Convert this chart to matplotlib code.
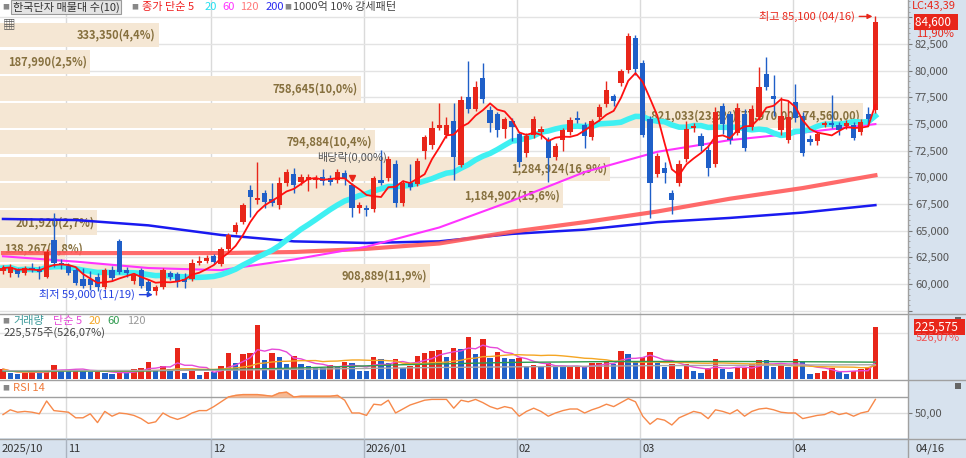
import numpy as np
import pandas as pd
import matplotlib.pyplot as plt
from matplotlib.lines import Line2D
from matplotlib.patches import Rectangle
from matplotlib.ticker import FuncFormatter, MultipleLocator

plt.rcParams['font.family'] = ['Noto Sans CJK KR', 'DejaVu Sans']

W, H = 966, 458

# daily candles, 2025/10 .. 2026/04/16
opens = [61200, 61000, 61300, 61000, 61500, 61400, 60700, 64100, 62000, 61700,
         61300, 60500, 60500, 60700, 59700, 61300, 64000, 61300, 60300, 61300,
         60200, 59300, 59700, 61000, 60900, 60500, 60500, 62000, 62200, 62600,
         61900, 63300, 64900, 65800, 68800, 67900, 68500, 68000, 67400, 69500,
         70300, 69600, 69800, 69800, 70000, 69900, 69750, 70400, 69300, 67100,
         67100, 67000, 69800, 69900, 71300, 67600, 69500, 69400, 72500, 73000,
         74600, 74000, 75300, 71200, 77500, 76400, 79300, 76300, 75900, 74500,
         75300, 74100, 72300, 74000, 74300, 73500, 71900, 73500, 74300, 75600,
         74900, 73800, 75700, 76900, 77600, 78900, 80100, 83100, 80700, 75500,
         70300, 70900, 68500, 69500, 71700, 74600, 73900, 72600, 71250, 76700,
         75900, 74200, 75900, 74700, 75700, 79700, 77600, 74400, 73500, 77100,
         75800, 73600, 73400, 74900, 75100, 74900, 74800, 74900, 74300, 75900,
         76300]
highs = [61800, 61900, 61500, 61700, 62000, 61700, 63300, 66700, 62300, 62000,
         61600, 61500, 61200, 61000, 61500, 61700, 64200, 61600, 61000, 61500,
         60500, 59900, 61500, 61200, 61100, 61000, 62300, 62600, 62700, 62800,
         63500, 64800, 65800, 67600, 69300, 71400, 68800, 69500, 70000, 70800,
         70900, 70300, 70300, 70200, 70800, 70200, 70800, 70700, 69500, 67700,
         67400, 70100, 72600, 72000, 71600, 69800, 71300, 71800, 74000, 75300,
         77000, 75700, 77000, 77600, 80900, 79000, 80700, 76700, 76100, 75700,
         75600, 74300, 74200, 75800, 74800, 73800, 73200, 74600, 75700, 76200,
         75200, 75500, 76900, 79000, 77800, 80200, 83500, 83400, 81000, 75800,
         72300, 71400, 68800, 71600, 75300, 75100, 74200, 73000, 76600, 77000,
         76200, 77000, 76400, 76800, 80400, 81300, 79600, 77500, 77200, 78800,
         76100, 74000, 74300, 75300, 77700, 75200, 75400, 75200, 75500, 76600,
         85100]
lows = [60900, 60700, 60700, 60800, 61100, 60500, 60600, 61600, 61400, 60800,
        59900, 59600, 59400, 59300, 59500, 60300, 60900, 60700, 60000, 59600,
        59100, 59000, 59500, 60400, 59700, 59600, 60300, 61800, 62000, 61900,
        61700, 63100, 64700, 65600, 66300, 67500, 67100, 67300, 67000, 69200,
        68500, 69300, 68700, 69000, 69300, 69300, 69500, 69300, 66300, 66700,
        66400, 66800, 69300, 69700, 67200, 67300, 68800, 69200, 71700, 72700,
        74400, 73700, 69800, 71000, 76000, 76200, 77000, 74300, 73800, 73700,
        73400, 71000, 71900, 73700, 73600, 69600, 71600, 72500, 74000, 75100,
        72800, 73500, 75300, 76600, 76700, 78600, 79800, 79600, 73800, 66200,
        70000, 69500, 66600, 69200, 71400, 74300, 72500, 70100, 71000, 74100,
        73100, 74000, 72500, 74400, 75400, 78200, 75800, 74000, 73200, 75200,
        72000, 73000, 73000, 74700, 74600, 74000, 74500, 73500, 74000, 74800,
        76000]
closes = [61500, 61600, 60900, 61500, 61300, 61100, 63000, 62000, 61800, 61000,
          60100, 59800, 59900, 59700, 61300, 60600, 61100, 61000, 60800, 59800,
          59300, 59700, 61300, 60700, 60200, 60200, 62000, 62200, 62400, 62100,
          63300, 64600, 65500, 67400, 68200, 68100, 67700, 67600, 69500, 70500,
          69300, 70000, 70000, 69900, 69700, 69600, 70500, 69850, 67100, 67400,
          66900, 69900, 69500, 71700, 67600, 69500, 69100, 71500, 73800, 74600,
          74900, 74900, 71900, 77300, 76400, 78500, 77400, 75100, 74400, 75500,
          74700, 71400, 73900, 75500, 74500, 71800, 72900, 74400, 75400, 75400,
          73900, 75300, 76600, 78200, 77200, 80000, 83300, 80200, 74000, 69500,
          72000, 70400, 67900, 71300, 74500, 74800, 72900, 70900, 76100, 75000,
          73500, 76500, 72800, 76400, 78500, 78500, 77400, 75800, 75700, 75600,
          72300, 73300, 74100, 75100, 74900, 74400, 75100, 73700, 75200, 75500,
          84600]

volumes = [43000, 27500, 21700, 27500, 34700, 27500, 34700, 59300, 39000, 39000,
           39000, 39000, 31800, 31800, 27500, 21700, 27500, 27500, 44800, 49100,
           75200, 39000, 56400, 42000, 135900, 24600, 39000, 17400, 31800, 31800,
           56400, 114200, 67900, 107000, 114200, 232800, 82400, 111300, 96900, 63600,
           101200, 63600, 57800, 50600, 46300, 59300, 50600, 72300, 67900, 34700,
           34700, 94000, 85300, 67900, 85300, 46300, 57800, 101200, 114200, 121500,
           125800, 94000, 135900, 131600, 183600, 109900, 173500, 89600, 117100, 89600,
           85300, 92600, 56400, 59300, 50600, 70900, 50600, 53500, 53500, 53500,
           50600, 70900, 70900, 79500, 65100, 120000, 109900, 73700, 96900, 117100,
           70900, 50600, 65100, 43400, 63600, 36200, 27500, 46300, 85300, 43400,
           31800, 49100, 49100, 63600, 82400, 82400, 50600, 59300, 50600, 85300,
           75200, 20200, 24600, 34700, 49100, 30400, 21700, 34700, 43400, 49100,
           225575]
vol_dir = ("RBBRRBRRBB" "RBBRBBRBRR" "RBRBRBRBRB" "RRBRRRBRBB" "RBBBBRBRBB"
           "BRBBRBRRRR" "RBRBRBRBRB" "BRBRBRBBRR" "BRRRBRBBRR" "BBRBRBBRRB"
           "BRRRRBBRBR" "BBRRRBBRRR" "R")

rsi14 = [48, 54, 51, 52, 51, 49, 65, 53, 52, 51,
         44, 44, 49, 38, 52, 46, 50, 49, 47, 43,
         37, 39, 50, 45, 42, 45, 50, 53, 53, 58,
         64, 70, 72, 73, 73, 73, 72, 71, 75, 76,
         70, 71, 71, 71, 71, 71, 72, 66, 50, 50,
         47, 61, 60, 66, 50, 55, 60, 63, 66, 67,
         67, 67, 56, 66, 64, 67, 63, 58, 55, 58,
         56, 46, 52, 56, 52, 46, 50, 53, 55, 55,
         50, 54, 57, 61, 58, 63, 68, 64, 46, 36,
         43, 41, 35, 44, 48, 52, 50, 43, 54, 52,
         49, 54, 46, 52, 55, 56, 54, 51, 50, 50,
         43, 45, 47, 48, 52, 48, 50, 46, 50, 52,
         67]

# long moving averages (need history before the window) read at sample bars
ma_idx = [0, 10, 20, 30, 40, 50, 60, 70, 80, 90, 100, 110, 120]
ma60 = [62600, 62100, 61500, 61300, 62300, 63500, 65300, 67800, 70500, 72400, 73500, 74200, 75000]
ma120 = [62900, 62900, 62900, 62900, 63000, 63300, 63800, 64900, 65800, 66800, 68000, 69000, 70200]
ma200 = [66100, 66000, 65500, 64600, 64000, 63850, 64000, 64700, 65100, 65800, 66200, 66700, 67400]

vma60_idx = [0, 20, 40, 55, 70, 85, 100, 110, 120]
vma60 = [34000, 35000, 47000, 62000, 72000, 76000, 76000, 75000, 73000]
vma120_idx = [0, 30, 60, 90, 120]
vma120 = [36000, 38000, 50000, 58000, 62000]

month_starts = [9, 29, 50, 71, 88, 109]
month_labels = ['11', '12', '2026/01', '02', '03', '04']

# 매물대 (10 price bands)
band_low = 59500
band_step = 2510
band_vol = [908889, 138267, 201920, 1184902, 1284924, 794884, 1821033, 758645, 187990, 333350]
band_pct = [11.9, 1.8, 2.7, 15.6, 16.9, 10.4, 23.9, 10.0, 2.5, 4.4]

hi_idx, hi_val = 120, 85100
lo_idx, lo_val = 21, 59000
div_idx, div_mark = 48, 69950

RED = '#e8261a'
BLUE = '#1f5fc8'

n = len(closes)
x = np.arange(n)
o = np.array(opens); c = np.array(closes)
hi = np.array(highs); lo = np.array(lows)
up = c >= o
ma5 = pd.Series(closes).rolling(5, min_periods=1).mean()
ma20 = pd.Series(closes).rolling(20, min_periods=1).mean()
v = np.array(volumes)
vma5 = pd.Series(volumes).rolling(5, min_periods=1).mean()
vma20 = pd.Series(volumes).rolling(20, min_periods=1).mean()
rsi = np.array(rsi14, dtype=float)

px_bar = 7.27
x0px = 3
xlim = (-x0px / px_bar, (908 - x0px) / px_bar)

fig = plt.figure(figsize=(W / 100, H / 100), dpi=100, facecolor='#d7e2ee')


def box(y0, y1):
    return [0, 1 - y1 / H, 908 / W, (y1 - y0) / H]


ax = fig.add_axes(box(0, 313))
vax = fig.add_axes(box(313, 380))
rax = fig.add_axes(box(380, 438))
for a in (ax, vax, rax):
    a.set_xlim(*xlim)
    a.set_xticks([])
    for s in a.spines.values():
        s.set_visible(False)
    for m in month_starts:
        a.axvline(m - 0.35, color='#dadada', lw=1, zorder=0)

# ---- price panel
ax.set_ylim(57280, 86640)
ax.yaxis.tick_right()
ax.set_yticks(np.arange(57500, 85001, 2500))
ax.yaxis.set_minor_locator(MultipleLocator(500))
ax.yaxis.set_major_formatter(FuncFormatter(lambda val, p: f'{val:,.0f}' if 60000 <= val <= 82500 else ''))
ax.tick_params(axis='y', which='major', length=3, color='#777777', labelsize=8, labelcolor='#555555', pad=2)
ax.tick_params(axis='y', which='minor', length=1.5, color='#999999')
ax.grid(axis='y', color='#e3e3e3', lw=1, zorder=0)
ax.set_axisbelow(True)

wpp = 36.1 / px_bar
for k in range(10):
    b0 = band_low + k * band_step
    w = band_pct[k] * wpp
    ax.barh(b0 + 0.04 * band_step, w, height=0.92 * band_step, left=xlim[0], align='edge',
            color='#f5e7d4', zorder=1)
    lab = f'{band_vol[k]:,}({band_pct[k]:.1f}%)'.replace('.', ',')
    if band_pct[k] == max(band_pct):
        lab += f'({b0 + band_step:,.2f} - {b0:,.2f})'.replace('.', ',')
    if band_pct[k] < 2.2:
        # label wider than its band: starts at the left edge
        tx, ha = xlim[0] + 0.5, 'left'
    else:
        tx, ha = xlim[0] + w - 0.4, 'right'
    ax.text(tx, b0 + band_step / 2, lab, ha=ha, va='center',
            fontsize=8, color='#86703e', fontweight='bold', zorder=1.5)

ax.plot(ma_idx, ma200, color='#1a1af0', lw=1.8, zorder=3)
ax.plot(ma_idx, ma120, color='#ff5a5a', lw=3, alpha=0.9, zorder=3)
ax.plot(ma_idx, ma60, color='#ff33ff', lw=1.5, zorder=3)
ax.plot(x, ma20, color='#3ff0f2', lw=4, zorder=3)

cols = np.where(up, RED, BLUE)
ax.vlines(x, lo, hi, colors=cols, lw=1, zorder=4)
body = np.maximum(np.abs(c - o), 90)
ax.bar(x, body, bottom=np.minimum(o, c), width=0.72, color=cols, zorder=4)
ax.plot(x, ma5, color='#ff1010', lw=1.3, zorder=5)

ax.annotate('최고 85,100 (04/16)', xy=(hi_idx - 0.4, hi_val), xytext=(hi_idx - 2.8, hi_val),
            ha='right', va='center', fontsize=8, color=RED,
            arrowprops=dict(arrowstyle='-|>', color=RED, lw=1, mutation_scale=7, shrinkA=1, shrinkB=0))
ax.annotate('최저 59,000 (11/19)', xy=(lo_idx - 0.4, lo_val), xytext=(lo_idx - 2.8, lo_val),
            ha='right', va='center', fontsize=8, color='#2440e0',
            arrowprops=dict(arrowstyle='-|>', color='#2440e0', lw=1, mutation_scale=7, shrinkA=1, shrinkB=0))
ax.plot(div_idx, div_mark, marker='v', color=RED, ms=5, zorder=6)
ax.text(div_idx, 71900, '배당락(0,00%)', ha='center', va='center', fontsize=8, color='#555555', zorder=6)

# ---- volume panel
vax.set_ylim(-4338, 286300)
vax.set_yticks([])
vax.axhline(200000, color='#e3e3e3', lw=1, zorder=0)
vcols = [RED if d == 'R' else BLUE for d in vol_dir]
vax.bar(x, v, width=0.75, color=vcols, zorder=2)
vax.plot(x, vma5, color='#e64ad8', lw=1, zorder=3)
vax.plot(x, vma20, color='#f5a623', lw=1, zorder=3)
vax.plot(vma60_idx, vma60, color='#2e9a4e', lw=1, zorder=3)
vax.plot(vma120_idx, vma120, color='#a8a8a8', lw=1, zorder=3)

# ---- RSI panel
rax.set_ylim(18.75, 91.25)
rax.yaxis.tick_right()
rax.set_yticks([50])
rax.set_yticklabels(['50,00'])
rax.tick_params(axis='y', length=3, color='#777777', labelsize=8, labelcolor='#555555', pad=2)
rax.axhline(70, color='#a0a0a0', lw=1, zorder=1)
rax.axhline(50, color='#dddddd', lw=1, zorder=0)
rax.fill_between(x, 70, rsi, where=rsi > 70, interpolate=True, color='#f6b993', zorder=2)
rax.plot(x, rsi, color='#f7894a', lw=1, zorder=3)


# ---- frame lines and labels in pixel coordinates
def fline(xs, ys, color='#a0a0a0', lw=1):
    fig.add_artist(Line2D([p / W for p in xs], [1 - p / H for p in ys], color=color, lw=lw))


def ftext(px, py, s, **kw):
    kw.setdefault('fontsize', 8)
    kw.setdefault('va', 'center')
    fig.text(px / W, 1 - py / H, s, **kw)


for yy in (313.5, 380, 438.5):
    fline([0, W], [yy, yy])
fline([908, 908], [0, H])
for m, lab in zip(month_starts, month_labels):
    mx = x0px + (m - 0.35) * px_bar
    fline([mx, mx], [439, H], color='#aab3bf')
    ftext(mx + 2, 449, lab, color='#333333')
ftext(2, 449, '2025/10', color='#333333')
ftext(915, 449, '04/16', color='#333333')

# legend row
ftext(2, 7, '■', fontsize=5, color='#888888')
ftext(13, 7, '한국단자 매물대 수(10)', color='#333333',
      bbox=dict(boxstyle='square,pad=0.15', fc='#e4e4e4', ec='#9a9a9a', lw=0.8))
ftext(131, 7, '■', fontsize=5, color='#888888')
ftext(142, 7, '종가 단순 5', color='#f02020')
ftext(205, 7, '20', color='#22e0f0')
ftext(222, 7, '60', color='#ff33ff')
ftext(240, 7, '120', color='#ff7a7a')
ftext(266, 7, '200', color='#2a2af0')
ftext(284, 7, '■', fontsize=5, color='#888888')
ftext(293, 7, '1000억 10% 강세패턴', color='#444444')
ftext(3, 25, '▦', fontsize=9, color='#555555')

ftext(2, 321, '■', fontsize=5, color='#888888')
ftext(13, 321, '거래량', color='#3c9a9a')
ftext(53, 321, '단순 5', color='#e64ad8')
ftext(89, 321, '20', color='#f5a623')
ftext(107, 321, '60', color='#2e9a4e')
ftext(127, 321, '120', color='#999999')
ftext(4, 333, '225,575주(526,07%)', color='#444444')

ftext(2, 388, '■', fontsize=5, color='#888888')
ftext(13, 388, 'RSI 14', color='#f07a3a')

# right side readouts
ftext(912, 6, 'LC:43,39', color=RED)
ftext(915, 22, '84,600  ', color='white', fontsize=8.5,
      bbox=dict(boxstyle='square,pad=0.12', fc=RED, ec='none'))
ftext(916, 34, '11,90%', color=RED)
ftext(915, 327, '225,575  ', color='white', fontsize=8.5,
      bbox=dict(boxstyle='square,pad=0.12', fc=RED, ec='none'))
ftext(916, 338, '526,07%', color='#f05050')
for yy in (317, 383):
    fig.add_artist(Rectangle((955 / W, 1 - (yy + 6) / H), 6 / W, 6 / H, transform=fig.transFigure,
                             fc='#666666', ec='none'))

fig.savefig('out.png', dpi=100, facecolor=fig.get_facecolor())
